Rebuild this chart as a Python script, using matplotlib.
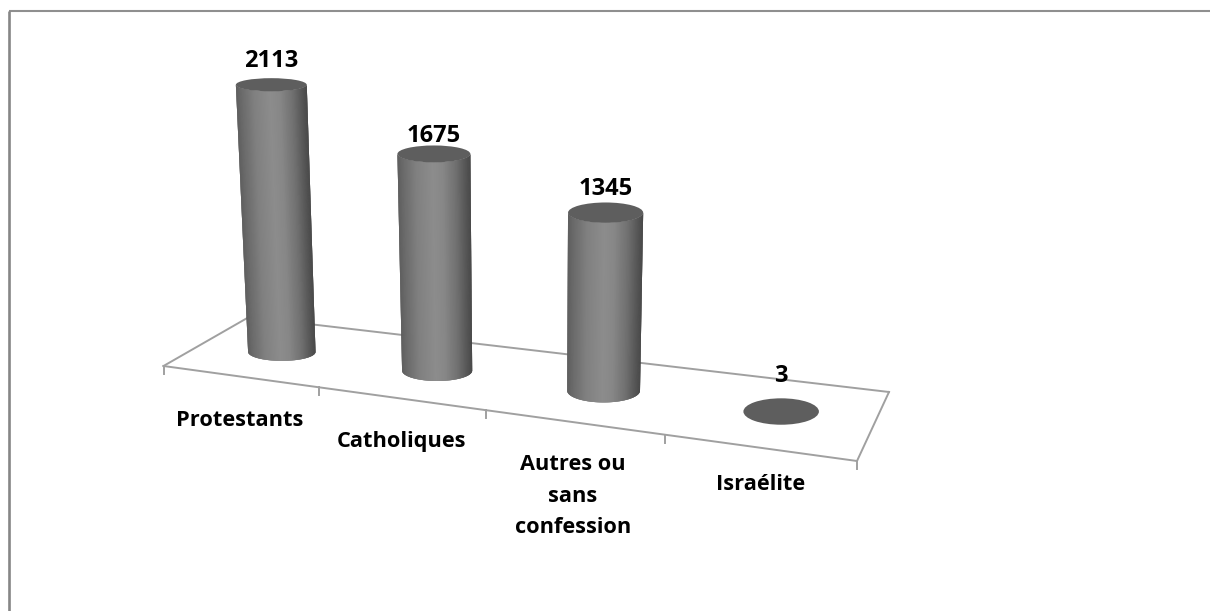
import numpy as np
import matplotlib
matplotlib.use("Agg")
import matplotlib.pyplot as plt
from matplotlib.collections import PolyCollection
from matplotlib.patches import Ellipse

# --- data -----------------------------------------------------------------
categories = ["Protestants", "Catholiques", "Autres ou\nsans\nconfession", "Israélite"]
values = [2113, 1675, 1345, 3]

# --- layout of the perspective scene (pixels) ------------------------------
W, H = 1210, 611
FL, FR, BR, BL = map(np.array, [(163.5, 366.0), (857.0, 461.0), (889.0, 392.0), (249.0, 317.0)])
VANISH = (532.0, 6717.0)
LABEL_POS = [(240, 421), (401, 442), (573, 496), (761, 485)]
VALUE_DY = [24, 18, 24, 36]
LINE = "#a0a0a0"
FONT = "Open Sans"
FS_CAT = 15.7
FS_VAL = 17


def floor(u, v):
    """Category position u (0..n) and depth v (0..1) to a point on the floor."""
    s = (149.1 * u + 6.06 * u * u) / (149.1 * 4 + 6.06 * 16)
    front = FL + (FR - FL) * s
    back = BL + (BR - BL) * s
    return front + (back - front) * v


def shade(t):
    """t: 0 left silhouette -> 1 right silhouette."""
    g = np.interp(t, [0, .08, .25, .48, .62, .8, .93, 1],
                  [.36, .42, .50, .55, .53, .44, .34, .28])
    return (g, g, g)


fig = plt.figure(figsize=(W / 100, H / 100), dpi=100, facecolor="white")
ax = fig.add_axes([0, 0, 1, 1])
ax.set_xlim(0, W)
ax.set_ylim(H, 0)
ax.axis("off")

# frame (only top and left are visible)
ax.plot([9, W], [11, 11], color="#8f8f8f", lw=1.5, solid_capstyle="butt", zorder=1)
ax.plot([9, 9], [10.5, H], color="#868686", lw=1.9, solid_capstyle="butt", zorder=1)

# floor
for a, b in [(FL, FR), (FR, BR), (BR, BL), (BL, FL)]:
    ax.plot([a[0], b[0]], [a[1], b[1]], color=LINE, lw=1.4, zorder=2)
for u in range(len(categories) + 1):
    x, y = floor(u, 0)
    ax.plot([x, x], [y, y + 8], color=LINE, lw=1.4, zorder=2)

# cylinders
for i, (cat, val) in enumerate(zip(categories, values)):
    bx, by = floor(i + .5, .48 + .02 * i)
    bx += 4 - 1.3 * i
    k = .1264 + .00295 * i
    h = val * k
    tx = bx - (VANISH[0] - bx) * h / (VANISH[1] - by)
    ty = by - h
    rx_b, ry_b = 33.7 + 1.35 * i, 9 + 1.4 * i
    rx_t, ry_t = rx_b + .0065 * h, ry_b - .009 * h
    if h > 2:
        n = 160
        th = np.linspace(-np.pi / 2, np.pi / 2, n + 1)
        polys, cols = [], []
        for j in range(n):
            a0, a1 = th[j], th[min(j + 3, n)]
            am = (th[j] + th[j + 1]) / 2
            polys.append([(tx + rx_t * np.sin(a0), ty + ry_t * np.cos(a0)),
                          (tx + rx_t * np.sin(a1), ty + ry_t * np.cos(a1)),
                          (bx + rx_b * np.sin(a1), by + ry_b * np.cos(a1)),
                          (bx + rx_b * np.sin(a0), by + ry_b * np.cos(a0))])
            cols.append(shade((np.sin(am) + 1) / 2))
        ax.add_collection(PolyCollection(polys, facecolors=cols, edgecolors="none",
                                         linewidths=0, zorder=3 + i))
    rx_top = rx_t if h > 2 else rx_b
    ry_top = ry_t if h > 2 else ry_b
    ax.add_patch(Ellipse((tx, ty), 2 * rx_top, 2 * ry_top, fc="#5e5e5e", ec="none", zorder=3.5 + i))
    ax.text(tx, ty - VALUE_DY[i], str(val), ha="center", va="center", family=FONT,
            fontweight="bold", fontsize=FS_VAL, color="black", zorder=10)
    lx, ly = LABEL_POS[i]
    ax.text(lx, ly, cat, ha="center", va="center", family=FONT, fontweight="bold",
            fontsize=FS_CAT, color="black", linespacing=1.68, zorder=10)

fig.savefig("out.png", dpi=100, facecolor="white")
